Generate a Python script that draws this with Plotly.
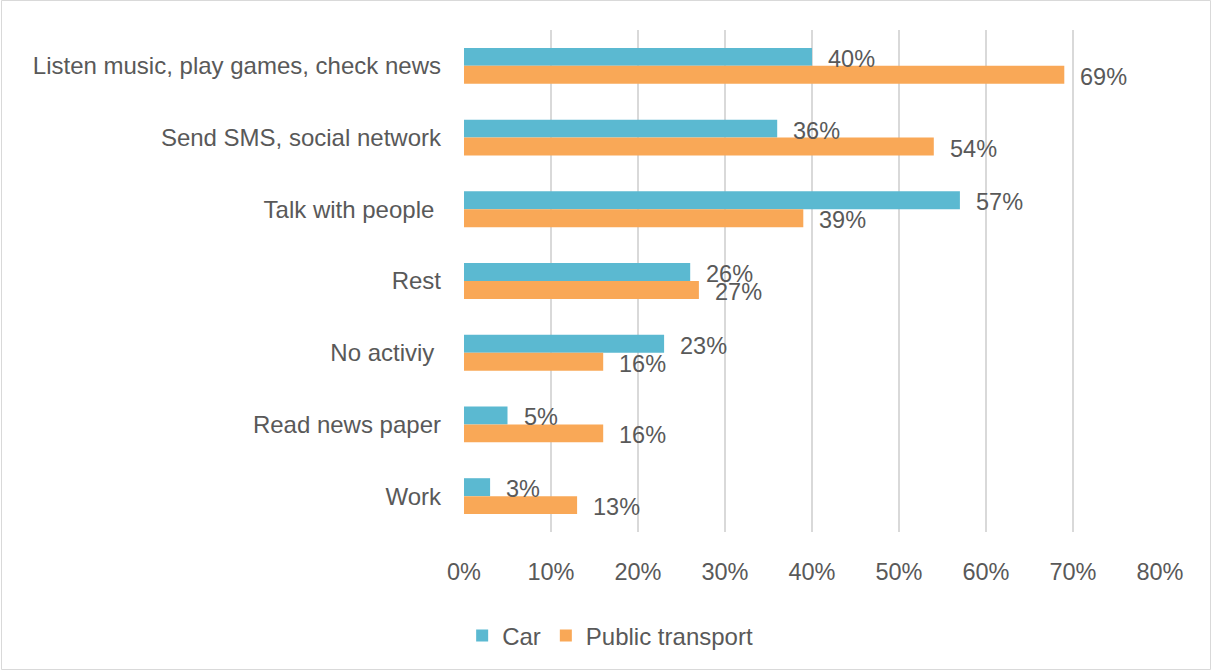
import plotly.graph_objects as go

# Activities while commuting, share of respondents by mode of transport
categories = [
    "Listen music, play games, check news",
    "Send SMS, social network",
    "Talk with people ",
    "Rest",
    "No activiy ",
    "Read news paper",
    "Work",
]
car = [40, 36, 57, 26, 23, 5, 3]
public_transport = [69, 54, 39, 27, 16, 16, 13]
x_ticks = [0, 10, 20, 30, 40, 50, 60, 70, 80]

CAR_COLOR = "#5BB9D1"
PT_COLOR = "#F9A857"
TEXT_COLOR = "#595959"
FONT = "Liberation Sans, Arial, sans-serif"
FS_CAT = 24
FS_NUM = 23.5

fig = go.Figure()
fig.add_trace(go.Bar(
    y=categories, x=car, name="Car", orientation="h",
    marker=dict(color=CAR_COLOR, line=dict(width=0)),
))
fig.add_trace(go.Bar(
    y=categories, x=public_transport, name="Public transport", orientation="h",
    marker=dict(color=PT_COLOR, line=dict(width=0)),
))

# value labels placed just past each bar end
annotations = []
for cat, v in zip(categories, car):
    annotations.append(dict(
        x=v, y=cat, xref="x", yref="y", text=f"{v}%", showarrow=False,
        xanchor="left", yanchor="middle", xshift=14, yshift=7,
        font=dict(family=FONT, size=FS_NUM, color=TEXT_COLOR),
    ))
for cat, v in zip(categories, public_transport):
    annotations.append(dict(
        x=v, y=cat, xref="x", yref="y", text=f"{v}%", showarrow=False,
        xanchor="left", yanchor="middle", xshift=14, yshift=-11,
        font=dict(family=FONT, size=FS_NUM, color=TEXT_COLOR),
    ))

W, H = 1212, 671
L, R, T, B = 464, 52, 30, 139
pw, ph = W - L - R, H - T - B

def px_x(p):
    return (p - L) / pw

def px_y(p):
    return (H - B - p) / ph

fig.update_layout(
    width=W, height=H,
    margin=dict(l=L, r=R, t=T, b=B, pad=0),
    paper_bgcolor="white", plot_bgcolor="white",
    barmode="group", bargap=0.5, bargroupgap=0,
    font=dict(family=FONT, size=FS_CAT, color=TEXT_COLOR),
    xaxis=dict(
        range=[0, 80], tickvals=x_ticks, ticktext=[f"{t}%" for t in x_ticks],
        showgrid=True, gridcolor="#D9D9D9", gridwidth=1.5,
        zeroline=False, showline=False, ticks="",
        ticklabelstandoff=23,
        tickfont=dict(family=FONT, size=FS_NUM, color=TEXT_COLOR),
    ),
    yaxis=dict(
        autorange="reversed", showgrid=False, zeroline=False,
        showline=False, ticks="", ticklabelstandoff=22,
        tickfont=dict(family=FONT, size=FS_CAT, color=TEXT_COLOR),
    ),
    legend=dict(
        orientation="h", x=0.21, xanchor="center", y=px_y(636), yanchor="middle",
        font=dict(family=FONT, size=FS_CAT, color=TEXT_COLOR),
        itemwidth=30, traceorder="normal",
    ),
    annotations=annotations,
    shapes=[dict(
        type="rect", xref="paper", yref="paper",
        x0=px_x(1.5), x1=px_x(1210.5), y0=px_y(669.5), y1=px_y(0.5),
        line=dict(color="#D9D9D9", width=1), fillcolor="rgba(0,0,0,0)", layer="below",
    )],
)

fig.write_html("out.html")
